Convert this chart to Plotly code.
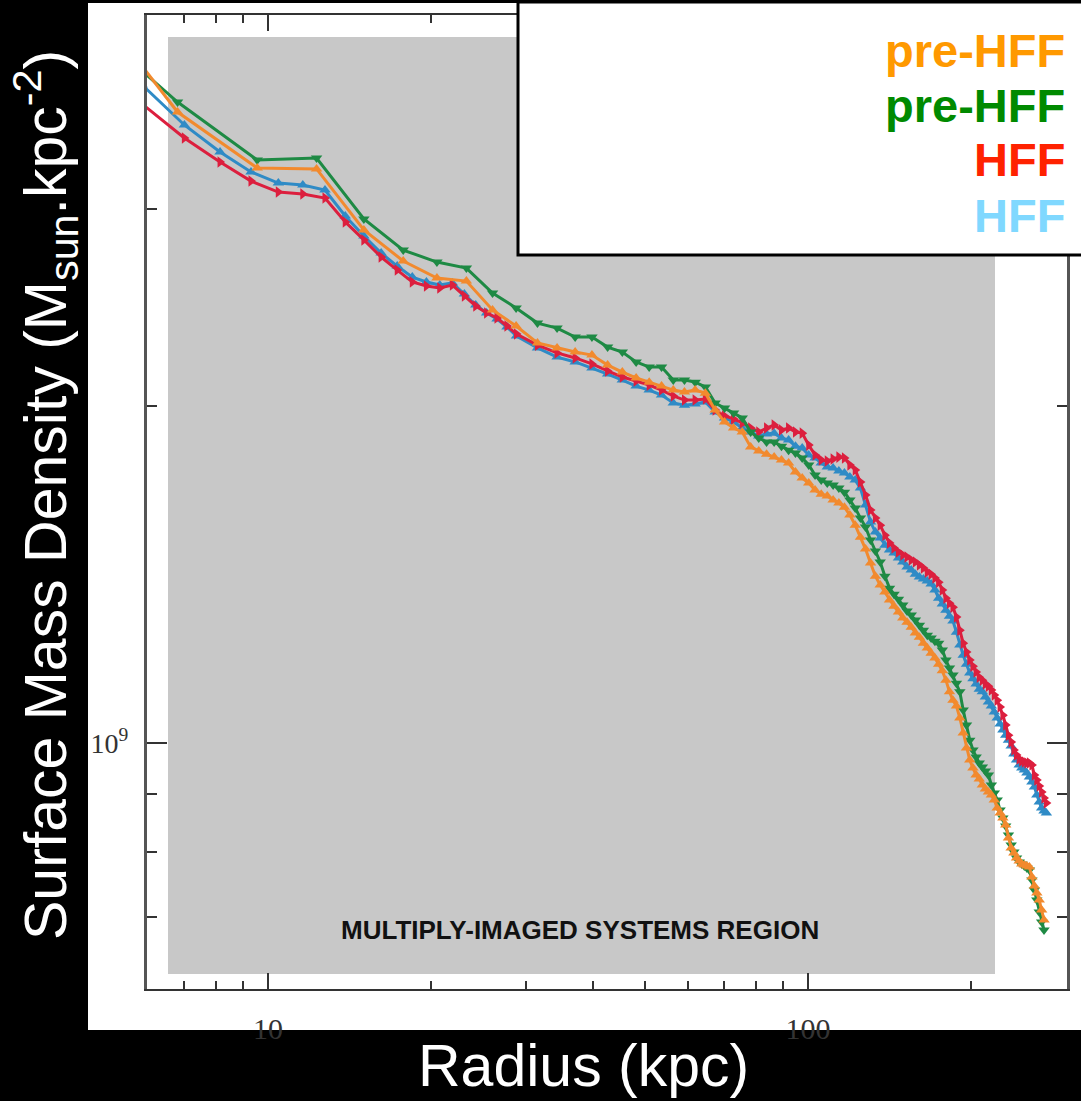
import plotly.graph_objects as go

# Radius grids (kpc)
r_pre = [4.05, 6.8, 9.55, 12.3, 15.05, 17.8, 20.55, 23.3, 26.05, 28.8, 31.55, 34.3, 37.05, 39.8,
         42.55, 45.3, 48.05, 50.8, 53.55, 56.3, 59.05, 61.8, 64.55, 67.3, 70.05, 72.8, 75.55, 78.3,
         81.05, 83.8, 86.55, 89.3, 92.05, 94.8, 97.55, 100.3, 103.05, 105.8, 108.55, 111.3, 114.05,
         116.8, 119.55, 122.3, 125.05, 127.8, 130.55, 133.3, 136.05, 138.8, 141.55, 144.3, 147.05,
         149.8, 152.55, 155.3, 158.05, 160.8, 163.55, 166.3, 169.05, 171.8, 174.55, 177.3, 180.05,
         182.8, 185.55, 188.3, 191.05, 193.8, 196.55, 199.3, 202.05, 204.8, 207.55, 210.3, 213.05,
         215.8, 218.55, 221.3, 224.05, 226.8, 229.55, 232.3, 235.05, 237.8, 240.55, 243.3, 246.05,
         248.8, 251.55, 254.3, 257.05, 259.8, 262.55, 265.3, 268.05, 270.8, 273.55]
r_hff_inner = [5.85, 7.0, 8.15, 9.3, 10.45, 11.6, 12.75, 13.9, 15.05, 16.2, 17.35, 18.5, 19.65,
               20.8, 21.95, 23.1, 24.25, 25.4, 26.55, 27.7, 28.85]
r_hff = r_hff_inner + r_pre[10:] + [276.3]

# Surface mass density in units of 1e9 Msun/kpc^2
sigma_pre_orange = [5.054, 3.659, 3.261, 3.255, 2.871, 2.694, 2.601, 2.585, 2.436, 2.357,
                    2.276, 2.253, 2.234, 2.220, 2.175, 2.144, 2.118, 2.100, 2.083, 2.066,
                    2.058, 2.066, 2.053, 1.983, 1.935, 1.911, 1.895, 1.838, 1.823, 1.811,
                    1.800, 1.789, 1.778, 1.746, 1.724, 1.707, 1.682, 1.668, 1.662, 1.648,
                    1.638, 1.624, 1.598, 1.565, 1.527, 1.490, 1.448, 1.409, 1.384, 1.364,
                    1.342, 1.325, 1.309, 1.293, 1.282, 1.269, 1.254, 1.243, 1.228, 1.216,
                    1.203, 1.191, 1.176, 1.160, 1.138, 1.111, 1.092, 1.079, 1.053, 1.021,
                    0.990, 0.9656, 0.9499, 0.9363, 0.9287, 0.9173, 0.9098, 0.9042, 0.8986, 0.8894,
                    0.8749, 0.8659, 0.8571, 0.8448, 0.8226, 0.8058, 0.7976, 0.7894, 0.7846, 0.7798,
                    0.7781, 0.7765, 0.7749, 0.7591, 0.7453, 0.7346, 0.7241, 0.7094, 0.6950]
sigma_pre_green = [4.645, 3.735, 3.316, 3.329, 2.937, 2.755, 2.688, 2.655, 2.522, 2.446,
                   2.371, 2.347, 2.304, 2.304, 2.257, 2.234, 2.189, 2.166, 2.166, 2.109,
                   2.109, 2.100, 2.079, 2.012, 1.991, 1.971, 1.951, 1.895, 1.872, 1.857,
                   1.857, 1.841, 1.826, 1.815, 1.797, 1.771, 1.735, 1.717, 1.707, 1.700,
                   1.689, 1.675, 1.648, 1.621, 1.588, 1.559, 1.518, 1.484, 1.451, 1.409,
                   1.375, 1.358, 1.344, 1.328, 1.312, 1.301, 1.288, 1.274, 1.261, 1.248,
                   1.241, 1.233, 1.228, 1.211, 1.186, 1.167, 1.150, 1.131, 1.111, 1.070,
                   1.038, 1.006, 0.9857, 0.9715, 0.9597, 0.9518, 0.9441, 0.9363, 0.9173, 0.9023,
                   0.8894, 0.8713, 0.8571, 0.8431, 0.8276, 0.8108, 0.7992, 0.7894, 0.7830, 0.7798,
                   0.7765, 0.7734, 0.7702, 0.7545, 0.7392, 0.7241, 0.7065, 0.6922, 0.6808]
sigma_hff_red = [3.720, 3.469, 3.302, 3.175, 3.104, 3.092, 3.066, 2.919, 2.813, 2.716,
                 2.644, 2.580, 2.559, 2.548, 2.564, 2.507, 2.456, 2.421, 2.396, 2.357, 2.318,
                 2.266, 2.230, 2.207, 2.180, 2.149, 2.122, 2.105, 2.087, 2.066, 2.041,
                 2.024, 2.024, 2.028, 1.983, 1.959, 1.947, 1.931, 1.911, 1.895, 1.911,
                 1.923, 1.903, 1.911, 1.895, 1.891, 1.845, 1.808, 1.789, 1.786, 1.793,
                 1.800, 1.797, 1.771, 1.753, 1.710, 1.665, 1.6145, 1.588, 1.565, 1.533,
                 1.509, 1.493, 1.481, 1.472, 1.466, 1.457, 1.451, 1.442, 1.433, 1.421,
                 1.415, 1.404, 1.392, 1.370, 1.347, 1.333, 1.322, 1.296, 1.261, 1.228,
                 1.206, 1.186, 1.171, 1.157, 1.145, 1.138, 1.129, 1.124, 1.115, 1.104,
                 1.092, 1.077, 1.059, 1.038, 1.016, 1.002, 0.9857, 0.9756, 0.9676, 0.9636,
                 0.9616, 0.9597, 0.9597, 0.9557, 0.9363, 0.9268, 0.9154, 0.9042, 0.8930, 0.8839]
sigma_hff_blue = [3.868, 3.563, 3.371, 3.235, 3.162, 3.149, 3.117, 2.955, 2.836, 2.738,
                  2.666, 2.606, 2.580, 2.564, 2.575, 2.517, 2.461, 2.421, 2.391, 2.352, 2.309,
                  2.253, 2.211, 2.189, 2.162, 2.135, 2.109, 2.083, 2.066, 2.045, 2.012,
                  2.003, 2.008, 2.016, 1.975, 1.951, 1.935, 1.911, 1.895, 1.880, 1.888,
                  1.891, 1.872, 1.864, 1.841, 1.834, 1.808, 1.797, 1.778, 1.764, 1.760,
                  1.749, 1.742, 1.728, 1.717, 1.689, 1.631, 1.575, 1.543, 1.524, 1.502,
                  1.487, 1.478, 1.463, 1.451, 1.436, 1.427, 1.415, 1.407, 1.401, 1.395,
                  1.387, 1.370, 1.347, 1.331, 1.314, 1.298, 1.285, 1.256, 1.223, 1.198,
                  1.176, 1.155, 1.141, 1.129, 1.117, 1.111, 1.099, 1.088, 1.079, 1.066,
                  1.053, 1.040, 1.027, 1.016, 1.006, 0.9937, 0.9776, 0.9656, 0.9557, 0.9499,
                  0.9460, 0.9402, 0.9325, 0.9230, 0.9135, 0.8986, 0.8858, 0.8749, 0.8695, 0.8659]

legend_labels = ["pre-HFF", "pre-HFF", "HFF", "HFF"]
legend_colors = ["#ff9900", "#008a00", "#ff2200", "#80d8ff"]

x_major = [10, 100]
x_major_text = ["10", "100"]
x_minor = [7, 8, 9, 20, 30, 40, 50, 60, 70, 80, 90, 200]
y_major = [1e9]
y_major_text = ["10<sup>9</sup>"]
y_minor = [7e8, 8e8, 9e8, 2e9, 3e9]

fig = go.Figure()

series = [
    (r_hff, sigma_hff_blue, "#2f8bc6", "triangle-up"),
    (r_hff, sigma_hff_red, "#dc1f3e", "triangle-right"),
    (r_pre, sigma_pre_green, "#1e8a44", "triangle-down"),
    (r_pre, sigma_pre_orange, "#f28a2e", "triangle-up"),
]
for rr, ss, col, sym in series:
    fig.add_trace(go.Scatter(
        x=rr, y=[v * 1e9 for v in ss], mode="lines+markers",
        line=dict(color=col, width=3),
        marker=dict(color=col, size=10, symbol=sym),
        showlegend=False, hoverinfo="skip"))

L, R, T, B = 147, 14, 15, 112
W, H = 1081, 1101
pw, ph = W - L - R, H - T - B

def px(xp):
    return (xp - L) / pw

def py(yp):
    return (H - B - yp) / ph

shapes = [
    dict(type="rect", xref="paper", yref="paper", x0=px(88), x1=px(1085), y0=py(1030), y1=py(3),
         fillcolor="white", line=dict(width=0), layer="below"),
    dict(type="rect", xref="paper", yref="paper", x0=px(168), x1=px(995), y0=py(974), y1=py(37),
         fillcolor="#c8c8c8", line=dict(width=0), layer="below"),
    dict(type="rect", xref="paper", yref="paper", x0=px(518), x1=px(1090), y0=py(255), y1=py(2),
         fillcolor="white", line=dict(color="black", width=3), layer="above"),
]

annotations = [
    dict(text="MULTIPLY-IMAGED SYSTEMS REGION", xref="paper", yref="paper", x=px(580), y=py(930),
         showarrow=False, xanchor="center", yanchor="middle",
         font=dict(family="Liberation Sans", size=26, color="#111111", weight="bold")),
    dict(text="Surface Mass Density (M<sub>sun</sub>.kpc<sup>-2</sup>)", xref="paper", yref="paper",
         x=px(45), y=py(495), textangle=-90, showarrow=False, xanchor="center", yanchor="middle",
         font=dict(family="Liberation Sans", size=59, color="white")),
    dict(text="Radius (kpc)", xref="paper", yref="paper", x=px(583), y=py(1066), showarrow=False,
         xanchor="center", yanchor="middle",
         font=dict(family="Liberation Sans", size=59, color="white")),
]
legend_y = [51, 106, 160, 215]
for lab, col, yy in zip(legend_labels, legend_colors, legend_y):
    annotations.append(dict(text=lab, xref="paper", yref="paper", x=px(1067), y=py(yy),
                            showarrow=False, xanchor="right", yanchor="middle",
                            font=dict(family="Liberation Sans", size=47, color=col, weight="bold")))

fig.update_layout(
    width=W, height=H,
    margin=dict(l=L, r=R, t=T, b=B, pad=0),
    paper_bgcolor="black", plot_bgcolor="rgba(0,0,0,0)",
    shapes=shapes, annotations=annotations, showlegend=False,
)
fig.update_xaxes(
    type="log", range=[0.7759, 2.4796], showgrid=False, zeroline=False,
    showline=True, linecolor="#333", linewidth=2, mirror="ticks",
    ticks="inside", ticklen=16, tickwidth=2, tickcolor="#333",
    tickvals=x_major, ticktext=x_major_text, ticklabelstandoff=12,
    tickfont=dict(family="Liberation Serif", size=30, color="#333"),
    minor=dict(tickvals=x_minor, ticks="inside", ticklen=8, tickwidth=2, tickcolor="#333", showgrid=False),
)
fig.update_yaxes(
    type="log", range=[8.7804, 9.65], showgrid=False, zeroline=False,
    showline=True, linecolor="#555", linewidth=3, mirror="ticks",
    ticks="inside", ticklen=20, tickwidth=2, tickcolor="#333",
    tickvals=y_major, ticktext=y_major_text, ticklabelstandoff=10,
    tickfont=dict(family="Liberation Serif", size=28, color="#333"),
    minor=dict(tickvals=y_minor, ticks="inside", ticklen=10, tickwidth=2, tickcolor="#333", showgrid=False),
)

fig.write_html("out.html", config={"displayModeBar": False},
               post_script="document.body.style.margin='0';document.body.style.padding='0';"
                           "document.body.style.background='black';")
